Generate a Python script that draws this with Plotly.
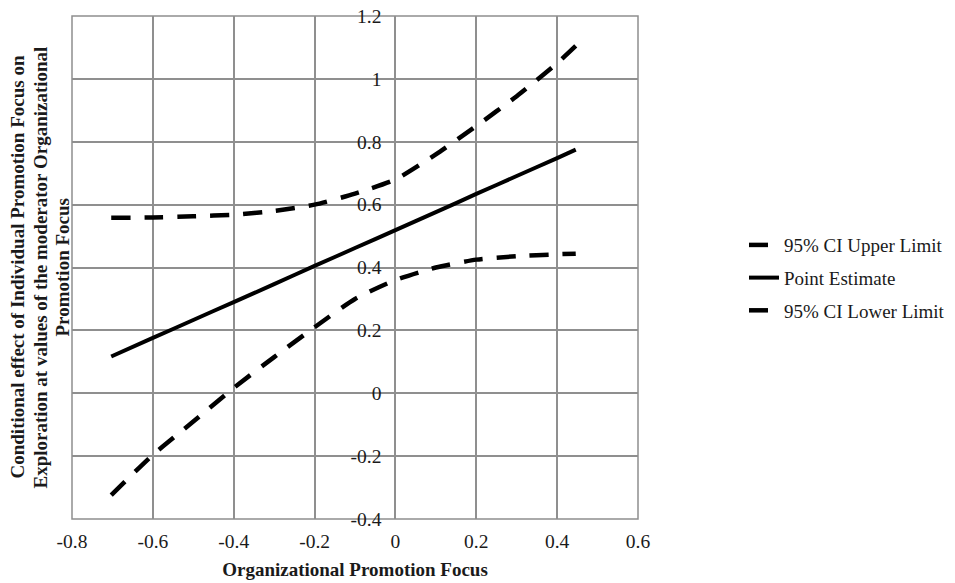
import plotly.graph_objects as go

# Data
x_vals = [-0.703, -0.6, -0.5, -0.4, -0.3, -0.2, -0.1, 0.0, 0.1, 0.2, 0.3, 0.4, 0.446]
upper = [0.558, 0.559, 0.563, 0.568, 0.58, 0.60, 0.635, 0.68, 0.76, 0.85, 0.945, 1.05, 1.105]
point = [0.117, 0.176, 0.233, 0.290, 0.347, 0.405, 0.462, 0.519, 0.576, 0.634, 0.691, 0.748, 0.775]
lower = [-0.324, -0.196, -0.09, 0.017, 0.115, 0.21, 0.30, 0.36, 0.40, 0.425, 0.436, 0.442, 0.444]

x_ticks = [-0.8, -0.6, -0.4, -0.2, 0, 0.2, 0.4, 0.6]
x_tick_text = ["-0.8", "-0.6", "-0.4", "-0.2", "0", "0.2", "0.4", "0.6"]
y_ticks = [-0.4, -0.2, 0, 0.2, 0.4, 0.6, 0.8, 1.0, 1.2]
y_tick_text = ["-0.4", "-0.2", "0", "0.2", "0.4", "0.6", "0.8", "1", "1.2"]

x_range = [-0.8, 0.6]
y_range = [-0.4, 1.2]

y_title_lines = ["Conditional effect of Individual Promotion Focus on",
                 "Exploration at values of the moderator Organizational",
                 "Promotion Focus"]
x_title = "Organizational Promotion Focus"

FONT = "Liberation Serif, Times New Roman, serif"
GRID = "#8f8f8f"
TXT = "#1a1a1a"
dash = "19px,14px"

fig = go.Figure()
fig.add_trace(go.Scatter(x=x_vals, y=upper, mode="lines", name="95% CI Upper Limit", legendgroup="u",
                         line=dict(color="black", width=4.5, dash=dash, shape="spline", smoothing=0.6)))
fig.add_trace(go.Scatter(x=x_vals, y=point, mode="lines", name="Point Estimate", legendgroup="p",
                         line=dict(color="black", width=4, shape="spline", smoothing=0.6)))
fig.add_trace(go.Scatter(x=x_vals, y=lower, mode="lines", name="95% CI Lower Limit", legendgroup="l",
                         line=dict(color="black", width=4.5, dash=dash, shape="spline", smoothing=0.6)))

y_pos = (0 - x_range[0]) / (x_range[1] - x_range[0])

# figure sized so that with the page's 8px body margin it fills the 955x583 window exactly
W, H = 947, 575
L, T, R, B = 64, 8, 317, 64
plot_w = W - L - R

def px_to_paper_x(px):
    return (px - (L + 8)) / plot_w

annotations = []
for i, (line, cx) in enumerate(zip(y_title_lines, [17, 40, 62])):
    annotations.append(dict(text="<b>" + line + "</b>", xref="paper", yref="paper",
                            x=px_to_paper_x(cx), y=0.5, xanchor="center", yanchor="middle",
                            textangle=-90, showarrow=False,
                            font=dict(family=FONT, size=19, color=TXT)))

fig.update_layout(
    width=W, height=H,
    margin=dict(l=L, r=R, t=T, b=B, autoexpand=False),
    paper_bgcolor="white", plot_bgcolor="white",
    font=dict(family=FONT, size=19, color=TXT),
    showlegend=True,
    legend=dict(x=px_to_paper_x(744), y=0.479, xanchor="left", yanchor="middle",
                font=dict(family=FONT, size=19, color=TXT),
                entrywidth=230, entrywidthmode="pixels",
                tracegroupgap=5, bgcolor="rgba(0,0,0,0)"),
    xaxis=dict(range=x_range, tickvals=x_ticks, ticktext=x_tick_text, automargin=False,
               showgrid=True, gridcolor=GRID, gridwidth=1.5, zeroline=False,
               showline=False, ticks="", ticklabelstandoff=8, ticklabeloverflow="allow",
               tickfont=dict(size=19.5, family=FONT, color=TXT),
               title=dict(text="<b>" + x_title + "</b>",
                          font=dict(family=FONT, size=19, color=TXT), standoff=12)),
    yaxis=dict(range=y_range, tickvals=y_ticks, ticktext=y_tick_text, automargin=False,
               showgrid=True, gridcolor=GRID, gridwidth=1.5, zeroline=False,
               showline=False, ticks="", anchor="free", position=y_pos, ticklabelstandoff=14,
               ticklabeloverflow="allow",
               tickfont=dict(size=19.5, family=FONT, color=TXT)),
    shapes=[dict(type="rect", xref="paper", yref="paper", x0=0, y0=0, x1=1, y1=1,
                 line=dict(color=GRID, width=1.5), layer="below")],
    annotations=annotations,
)

fig.write_html("out.html")
